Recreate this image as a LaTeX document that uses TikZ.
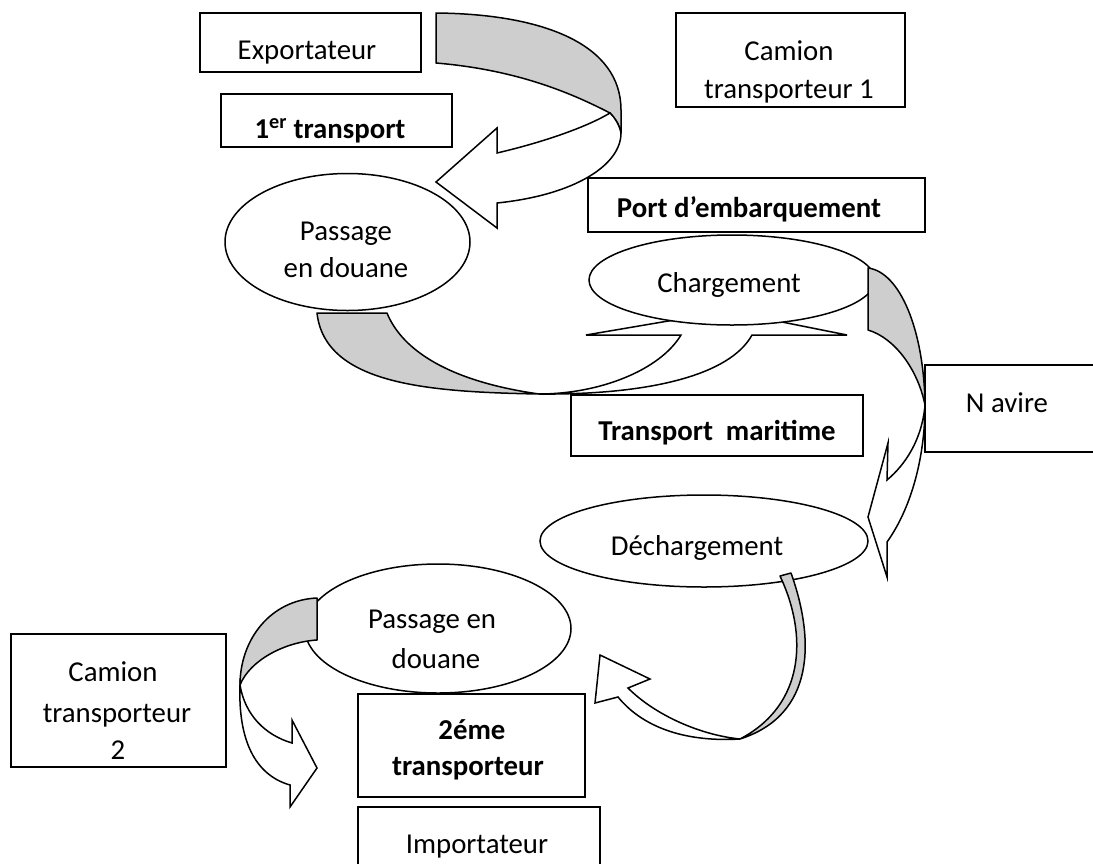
\documentclass[tikz,border=0pt]{standalone}
\usepackage{fontspec}
\setmainfont{Carlito}
\usetikzlibrary{shapes.geometric}
\definecolor{bandgray}{RGB}{206,206,206}
\begin{document}
\begin{tikzpicture}[x=1pt,y=-1pt,
  box/.style={draw, line width=1.8pt, fill=white, inner sep=0pt, outer sep=0pt},
  oval/.style={ellipse, draw, line width=1.5pt, fill=white, inner sep=0pt, outer sep=0pt},
  band/.style={draw, line width=1.5pt, fill=bandgray, line join=round},
  front/.style={draw, line width=1.5pt, fill=white, line join=miter},
  lbl/.style={anchor=base, inner sep=0pt, font=\fontsize{28.8}{36}\selectfont},
  blbl/.style={anchor=base, inner sep=0pt, font=\fontsize{28.8}{36}\selectfont\bfseries}]
\useasboundingbox (0,0) rectangle (1093,863);

% boxes
\node[box, minimum width=221pt, minimum height=59pt] (exp) at (310.5,42.5) {};
\node[box, minimum width=231pt, minimum height=53pt] (tr1) at (336.5,120.5) {};
\node[box, minimum width=229pt, minimum height=94pt] (cam1) at (790.5,60) {};
\node[box, minimum width=337pt, minimum height=54pt] (port) at (756.5,205) {};
\node[box, minimum width=292pt, minimum height=61pt] (mar) at (717,425.5) {};
\node[box, minimum width=180pt, minimum height=87pt] (nav) at (1015,408.5) {};
\node[box, minimum width=215pt, minimum height=133pt] (cam2) at (118.5,700.5) {};
\node[box, minimum width=227pt, minimum height=103pt] (tr2) at (471.5,745.5) {};
\node[box, minimum width=242pt, minimum height=90pt] (imp) at (479,852) {};

% ovals
\node[oval, minimum width=245pt, minimum height=137pt] (dou1) at (347.5,242) {};
\node[oval, minimum width=328pt, minimum height=92pt] (dech) at (704,541) {};
\node[oval, minimum width=266pt, minimum height=129pt] (dou2) at (438,628.5) {};

% first transport: curved arrow from the exporter down to customs
\draw[band] (436,13) .. controls (545,14) and (621,45) .. (621,110) -- (621,133)
  .. controls (619,124) and (615,118) .. (610,113)
  .. controls (575,95) and (520,70) .. (436,63) -- cycle;
\draw[front] (621,133) .. controls (621,165) and (575,195) .. (497,203)
  -- (497,228) -- (436,182) -- (497,128) -- (497,153)
  .. controls (540,143) and (585,128) .. (610,113)
  .. controls (615,118) and (619,124) .. (621,133) -- cycle;

% customs to loading
\draw[band] (317,313) -- (387,313) .. controls (400,345) and (440,380) .. (539,394)
  .. controls (430,392) and (325,385) .. (317,313) -- cycle;
\draw[front] (539,394) .. controls (600,394) and (660,370) .. (681,335)
  -- (586,335) -- (727,311) -- (847,335) -- (752,335)
  .. controls (730,375) and (650,395) .. (539,394) -- cycle;
\node[oval, minimum width=286pt, minimum height=90pt] (charg) at (732,280) {};

% loading to unloading along the ship
\draw[band] (868,268) .. controls (900,272) and (924,330) .. (925,405)
  .. controls (918,370) and (895,338) .. (868,330) -- cycle;
\draw[front] (925,405) .. controls (922,440) and (905,465) .. (887,480)
  -- (888,443) -- (868,517) -- (887,577) -- (887,542)
  .. controls (910,510) and (925,460) .. (925,405) -- cycle;

% unloading to customs
\draw[band] (780,576) -- (791,573) .. controls (815,640) and (815,715) .. (740,739)
  .. controls (805,705) and (808,635) .. (780,576) -- cycle;
\draw[front] (740,739) .. controls (700,735) and (655,715) .. (628,688)
  -- (650,679) -- (600,655) -- (595,703) -- (618,697)
  .. controls (645,730) and (690,742) .. (740,739) -- cycle;

% customs to second carrier
\draw[band] (317,598) .. controls (270,600) and (240,640) .. (240,685)
  .. controls (250,660) and (285,642) .. (317,640) -- cycle;
\draw[front] (240,685) .. controls (245,715) and (265,735) .. (292,743)
  -- (292,720) -- (317,768) -- (290,807) -- (290,785)
  .. controls (255,775) and (238,740) .. (240,685) -- cycle;

% labels
\node[lbl] (expt) at (307,59) {Exportateur};
\node[blbl] (tr1t) at (330,138) {1\textsuperscript{er} transport};
\node[lbl] (cam1a) at (789,60) {Camion};
\node[lbl] (cam1b) at (789,98) {transporteur 1};
\node[blbl] (portt) at (749,217) {Port d’embarquement};
\node[lbl] (dou1a) at (346,240) {Passage};
\node[lbl] (dou1b) at (346,277) {en douane};
\node[lbl] (chargt) at (729,292) {Chargement};
\node[blbl] (mart) at (717,440) {Transport\ \ maritime};
\node[lbl] (navt) at (1007,412) {N avire};
\node[lbl] (decht) at (697,555) {Déchargement};
\node[lbl] (dou2a) at (432,628) {Passage en};
\node[lbl] (dou2b) at (436,668) {douane};
\node[lbl] (cam2a) at (113,681) {Camion};
\node[lbl] (cam2b) at (117,722) {transporteur};
\node[lbl] (cam2c) at (118,759) {2};
\node[blbl] (tr2a) at (472,739) {2éme};
\node[blbl] (tr2b) at (468,775) {transporteur};
\node[lbl] (impt) at (477,853) {Importateur};
\end{tikzpicture}
\end{document}
